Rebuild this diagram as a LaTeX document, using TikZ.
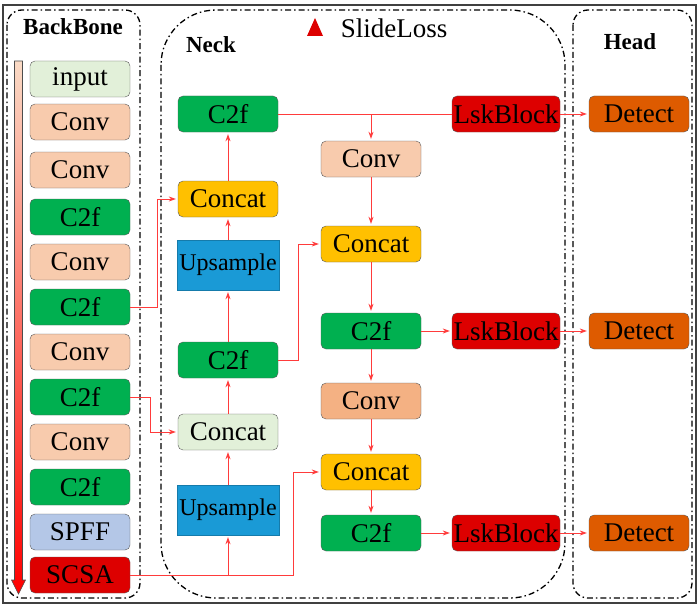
\documentclass[tikz,border=0pt]{standalone}
\usepackage{fontspec}
\setmainfont{Liberation Serif}
\usepackage{tikz}
\usetikzlibrary{shapes}
\usetikzlibrary{arrows.meta}
\usetikzlibrary{calc}
\usepackage{xcolor}
\definecolor{lgrn}{HTML}{E2F0D9}
\definecolor{peach}{HTML}{F8CBAD}
\definecolor{sand}{HTML}{F4B183}
\definecolor{grn}{HTML}{00B050}
\definecolor{lblue}{HTML}{B4C7E7}
\definecolor{scsa}{HTML}{DD0000}
\definecolor{gold}{HTML}{FFC000}
\definecolor{upblue}{HTML}{1A9AD6}
\definecolor{det}{HTML}{DE5B00}
\definecolor{lnk}{HTML}{FF3B3B}
\tikzset{
blk/.style={draw=black!65,rounded corners=5pt,minimum width=100pt,minimum height=36pt,inner sep=0pt,font=\fontsize{27}{30}\selectfont},
ups/.style={draw=upblue!80!black,fill=upblue,minimum width=102pt,minimum height=50pt,inner sep=0pt,font=\fontsize{24}{26}\selectfont},
con/.style={lnk,line width=0.8pt,shorten >=2pt,-{Stealth[length=7pt,width=5pt]}},
grp/.style={line width=1.3pt,dash pattern=on 6pt off 3pt on 1.5pt off 3pt},
ttl/.style={font=\fontsize{23}{25}\selectfont\bfseries}
}

\begin{document}
\begin{tikzpicture}[x=1pt,y=-1pt]
\useasboundingbox (0,0) rectangle (700,607);
\draw[black!75,line width=1.3pt] (3,5) rectangle (696,603);
\draw[grp,rounded corners=15pt] (7,10) rectangle (140,598);
\draw[grp,rounded corners=55pt] (161,10) rectangle (565,598);
\draw[grp,rounded corners=15pt] (573,10) rectangle (692,598);
\node[ttl] (tb) at (73,27) {BackBone};
\node[ttl] (tn) at (211,45) {Neck};
\node[ttl] (th) at (630,42) {Head};
\fill[scsa] (307,36) -- (323,36) -- (315,18) -- cycle;
\node[font=\fontsize{27}{30}\selectfont] (sl) at (394,28) {SlideLoss};
\shade[top color=peach!70,middle color=red!90,bottom color=red,draw=black!70,line width=0.6pt]
  (14.5,61) -- (22.5,61) -- (22.5,580) -- (25.5,580) -- (18.5,594) -- (11.5,580) -- (14.5,580) -- cycle;
\foreach \n/\y/\t/\c in {1/79/input/lgrn,2/122/Conv/peach,3/170/Conv/peach,4/217/C2f/grn,
  5/262/Conv/peach,6/307/C2f/grn,7/352/Conv/peach,8/397/C2f/grn,9/442/Conv/peach,
  10/487/C2f/grn,11/532/SPFF/lblue,12/575/SCSA/scsa}
  \node[blk,fill=\c] (b\n) at (80,\y) {\t};
\node[blk,fill=grn] (n1) at (228,114) {C2f};
\node[blk,fill=gold] (n2) at (228,199) {Concat};
\node[ups] (n3) at (228,265) {Upsample};
\node[blk,fill=grn] (n4) at (228,360) {C2f};
\node[blk,fill=lgrn] (n5) at (228,432) {Concat};
\node[ups] (n6) at (228,510) {Upsample};
\node[blk,fill=peach] (m1) at (371,159) {Conv};
\node[blk,fill=gold] (m2) at (371,244) {Concat};
\node[blk,fill=grn] (m3) at (371,331) {C2f};
\node[blk,fill=sand] (m4) at (371,401) {Conv};
\node[blk,fill=gold] (m5) at (371,472) {Concat};
\node[blk,fill=grn] (m6) at (371,533) {C2f};
\foreach \k/\y in {1/114,2/331,3/533} {
  \node[blk,fill=scsa,minimum width=108pt] (l\k) at (506,\y) {LskBlock};
  \node[blk,fill=det] (d\k) at (639,\y) {Detect};
  \draw[con] (l\k.east) -- (d\k.west);
}
\foreach \a/\b in {n6/n5,n5/n4,n4/n3,n3/n2,n2/n1,m1/m2,m2/m3,m3/m4,m4/m5,m5/m6}
  \draw[con] (\a) -- (\b);
\draw[con] (b6.east) -- ++(27,0) |- (n2.west);
\draw[con] (b8.east) -- ++(20,0) |- (n5.west);
\draw[con] (b12.east) -- ++(163,0) |- (m5.west);
\draw[con] (n6.south |- b12.east) -- (n6.south);
\draw[con] (n4.east) -- ++(20,0) |- (m2.west);
\draw[lnk,line width=0.8pt] (n1.east) -- (l1.west);
\draw[con] (n1.east -| m1) -- (m1.north);
\draw[con] (m3) -- (l2);
\draw[con] (m6) -- (l3);
\end{tikzpicture}
\end{document}
